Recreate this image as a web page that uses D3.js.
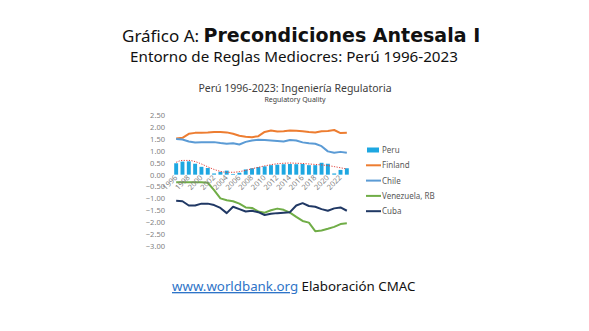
<!DOCTYPE html>
<html>
<head>
<meta charset="utf-8">
<script src="https://cdn.jsdelivr.net/npm/d3@7"></script>
<style>
  body { margin: 0; background: #fff; }
  text { font-family: "Noto Sans", sans-serif; }
</style>
</head>
<body>
<div id="chart"></div>
<script>
// Regulatory Quality (WGI) 1996-2023
var years = d3.range(1996, 2024);
var peru = [0.48, 0.55, 0.56, 0.46, 0.33, 0.28, 0.05, 0.12, 0.17, 0.03, 0.08, 0.22, 0.27, 0.32,
            0.35, 0.40, 0.42, 0.44, 0.45, 0.44, 0.45, 0.40, 0.40, 0.50, 0.46, 0.05, 0.20, 0.27];
var peruTrend = [0.52, 0.60, 0.60, 0.55, 0.45, 0.33, 0.22, 0.14, 0.10, 0.10, 0.13, 0.18, 0.25, 0.31,
                 0.37, 0.42, 0.46, 0.48, 0.49, 0.48, 0.47, 0.45, 0.43, 0.41, 0.38, 0.34, 0.29, 0.24];
var finland = [1.52, 1.55, 1.72, 1.76, 1.77, 1.78, 1.80, 1.80, 1.78, 1.72, 1.64, 1.60, 1.58, 1.62,
               1.80, 1.86, 1.82, 1.83, 1.86, 1.85, 1.83, 1.80, 1.78, 1.83, 1.84, 1.88, 1.75, 1.76];
var chile = [1.50, 1.48, 1.40, 1.35, 1.36, 1.37, 1.37, 1.33, 1.30, 1.32, 1.27, 1.38, 1.44, 1.47,
             1.46, 1.44, 1.42, 1.40, 1.46, 1.44, 1.36, 1.32, 1.30, 1.20, 0.98, 0.92, 0.96, 0.92];
var venezuela = [-0.32, -0.32, -0.32, -0.32, -0.32, -0.34, -0.65, -1.00, -1.08, -1.12, -1.22, -1.38, -1.40, -1.55,
                 -1.60, -1.50, -1.43, -1.48, -1.60, -1.78, -1.95, -2.02, -2.38, -2.35, -2.28, -2.20, -2.08, -2.05];
var cuba = [-1.10, -1.12, -1.30, -1.30, -1.22, -1.22, -1.28, -1.40, -1.62, -1.35, -1.45, -1.55, -1.52, -1.58,
            -1.70, -1.65, -1.62, -1.60, -1.58, -1.30, -1.20, -1.32, -1.35, -1.45, -1.52, -1.42, -1.38, -1.52];
var yTicks = [2.5, 2, 1.5, 1, 0.5, 0, -0.5, -1, -1.5, -2, -2.5, -3];
var xLabels = years.filter(function(y) { return (y - 1996) % 2 == 0; });

var lineSeries = [
  {name: "Finland", values: finland, color: "#ed7d31"},
  {name: "Chile", values: chile, color: "#5b9bd5"},
  {name: "Venezuela, RB", values: venezuela, color: "#70ad47"},
  {name: "Cuba", values: cuba, color: "#203864"}
];

var width = 589, height = 331;

var svg = d3.select("#chart").append("svg")
  .attr("width", width)
  .attr("height", height);

// big heading
var t1 = svg.append("text")
  .attr("x", 122).attr("y", 42)
  .style("font-size", "17px")
  .attr("fill", "#111");
t1.append("tspan").text("Gráfico A: ");
t1.append("tspan").text("Precondiciones Antesala I")
  .style("font-family", "DejaVu Sans, sans-serif")
  .style("font-weight", 700)
  .style("font-size", "19px");

svg.append("text")
  .attr("x", 294).attr("y", 62)
  .attr("text-anchor", "middle")
  .style("font-size", "15.2px")
  .attr("fill", "#111")
  .text("Entorno de Reglas Mediocres: Perú 1996-2023");

// chart title
svg.append("text")
  .attr("x", 295).attr("y", 92)
  .attr("text-anchor", "middle")
  .style("font-size", "10.5px")
  .attr("fill", "#404040")
  .text("Perú 1996-2023: Ingeniería Regulatoria");
svg.append("text")
  .attr("x", 295).attr("y", 102)
  .attr("text-anchor", "middle")
  .style("font-size", "7px")
  .attr("fill", "#404040")
  .text("Regulatory Quality");

// scales
var x = d3.scaleBand()
  .domain(years)
  .range([171.8, 351.2])
  .padding(0.38);

var y = d3.scaleLinear()
  .domain([-3, 2.5])
  .range([245.9, 115.3]);

var cx = function(i) { return x(years[i]) + x.bandwidth() / 2; };

// y axis (labels only)
var yAxis = d3.axisLeft(y)
  .tickValues(yTicks)
  .tickSize(0)
  .tickPadding(0)
  .tickFormat(d3.format(".2f"));

var gy = svg.append("g")
  .attr("transform", "translate(165,0)")
  .call(yAxis);
gy.select(".domain").remove();
gy.selectAll("text")
  .style("font-size", "7.5px")
  .style("font-family", "Noto Sans, sans-serif")
  .attr("fill", "#7f7f7f");

// Peru bars
svg.append("g").selectAll("rect")
  .data(peru)
  .enter()
  .append("rect")
  .attr("x", function(d, i) { return x(years[i]); })
  .attr("width", x.bandwidth())
  .attr("y", function(d) { return y(Math.max(d, 0)); })
  .attr("height", function(d) { return Math.abs(y(d) - y(0)); })
  .attr("fill", "#1ea7e1");

// trend line (dotted)
var line = d3.line()
  .x(function(d, i) { return cx(i); })
  .y(function(d) { return y(d); })
  .curve(d3.curveMonotoneX);

svg.append("path")
  .datum(peruTrend)
  .attr("d", line)
  .attr("fill", "none")
  .attr("stroke", "#e0403a")
  .attr("stroke-width", 1)
  .attr("stroke-dasharray", "1.2,1.4");

// country lines
var straight = d3.line()
  .x(function(d, i) { return cx(i); })
  .y(function(d) { return y(d); });

svg.append("g").selectAll("path")
  .data(lineSeries)
  .enter()
  .append("path")
  .attr("d", function(s) { return straight(s.values); })
  .attr("fill", "none")
  .attr("stroke", function(s) { return s.color; })
  .attr("stroke-width", 2)
  .attr("stroke-linejoin", "round");

// x axis labels at zero, rotated
var xAxis = d3.axisBottom(x)
  .tickValues(xLabels)
  .tickSize(0)
  .tickPadding(0);

var gx = svg.append("g")
  .attr("transform", "translate(0," + (y(0) + 2) + ")")
  .call(xAxis);
gx.select(".domain").remove();
gx.selectAll("text")
  .style("font-size", "7.5px")
  .style("font-family", "Noto Sans, sans-serif")
  .attr("fill", "#7f7f7f")
  .attr("text-anchor", "end")
  .attr("dy", "0.3em")
  .attr("transform", "rotate(-45)");

// legend
var legendItems = [{name: "Peru", color: "#1ea7e1", bar: true}].concat(lineSeries);
var legend = svg.append("g").selectAll("g")
  .data(legendItems)
  .enter()
  .append("g")
  .attr("transform", function(d, i) { return "translate(366," + (150 + i * 15.3) + ")"; });

legend.append("rect")
  .attr("x", function(d) { return d.bar ? 1 : 0; })
  .attr("y", function(d) { return d.bar ? -2.5 : -1; })
  .attr("width", function(d) { return d.bar ? 12 : 15; })
  .attr("height", function(d) { return d.bar ? 5 : 2; })
  .attr("fill", function(d) { return d.color; });

legend.append("text")
  .attr("x", 16)
  .attr("y", 3)
  .style("font-size", "8px")
  .attr("fill", "#595959")
  .text(function(d) { return d.name; });

// source line
var src = svg.append("text")
  .attr("x", 172).attr("y", 291)
  .style("font-size", "13.3px")
  .attr("fill", "#111");
src.append("tspan").text("www.worldbank.org")
  .attr("fill", "#2e74c8")
  .style("text-decoration", "underline");
src.append("tspan").text(" Elaboración CMAC");
</script>
</body>
</html>
